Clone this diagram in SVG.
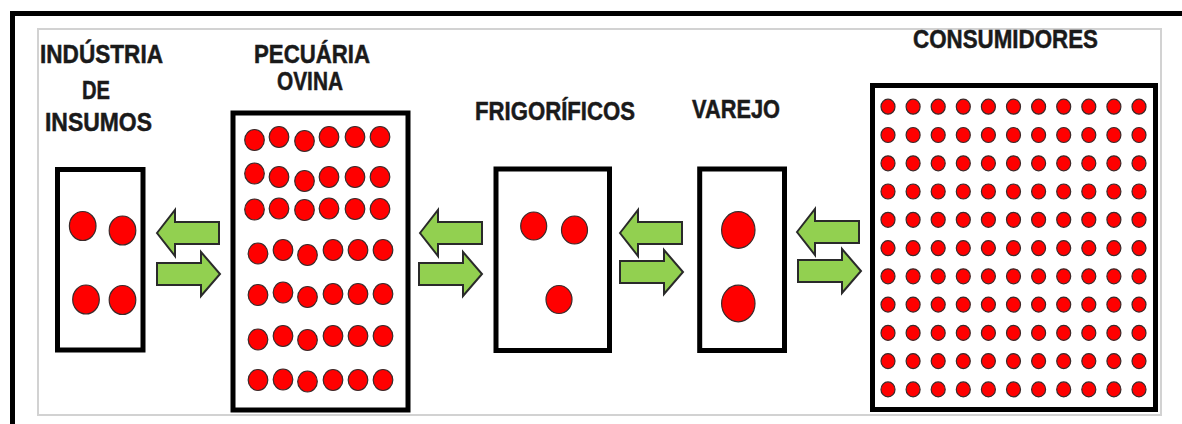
<svg xmlns="http://www.w3.org/2000/svg" xmlns:xlink="http://www.w3.org/1999/xlink" width="1182" height="424" viewBox="0 0 1182 424">
<style>
.lbl{font-family:"Liberation Sans",Arial,sans-serif;font-weight:bold;font-size:25.5px;fill:#1a1a1a;stroke:#1a1a1a;stroke-width:0.5;}
.box{fill:#fff;stroke:#000;stroke-width:5;}
.dot{fill:#ff0000;stroke:#3a2a2a;stroke-width:1.2;}
.arr{fill:#92d050;stroke:#2a2a2a;stroke-width:2;stroke-linejoin:miter;}
</style>
<defs>
<path id="arrL" d="M0,0 L18,-23 L18,-11 L62,-11 L62,11 L18,11 L18,23 Z"/>
<path id="arrR" d="M0,-11 L44,-11 L44,-22 L63,0 L44,22 L44,11 L0,11 Z"/>
<ellipse id="pd" rx="9.8" ry="10.5"/>
<ellipse id="cd" rx="7" ry="7.5"/>
<g id="crow">
<use href="#cd" x="888"/><use href="#cd" x="913.1"/><use href="#cd" x="938.2"/><use href="#cd" x="963.3"/><use href="#cd" x="988.4"/><use href="#cd" x="1013.5"/><use href="#cd" x="1038.6"/><use href="#cd" x="1063.7"/><use href="#cd" x="1088.8"/><use href="#cd" x="1113.9"/><use href="#cd" x="1139"/>
</g>
</defs>
<rect width="1182" height="424" fill="#fff"/>
<g id="frame">
<rect x="38" y="29" width="1123" height="386" fill="none" stroke="#d2d2d2" stroke-width="2"/>
<line x1="10" y1="13.5" x2="1182" y2="13.5" stroke="#000" stroke-width="5"/>
<line x1="12.5" y1="11" x2="12.5" y2="424" stroke="#000" stroke-width="5"/>
</g>
<g id="industria">
<text class="lbl" x="40" y="63" textLength="123" lengthAdjust="spacingAndGlyphs">INDÚSTRIA</text>
<text class="lbl" x="82" y="99" textLength="28" lengthAdjust="spacingAndGlyphs">DE</text>
<text class="lbl" x="45" y="131" textLength="107" lengthAdjust="spacingAndGlyphs">INSUMOS</text>
<rect class="box" x="57.5" y="169.5" width="85.5" height="180.5"/>
<g class="dot">
<ellipse cx="82.7" cy="226" rx="13.3" ry="14.5"/>
<ellipse cx="122.5" cy="230.5" rx="13.3" ry="14.5"/>
<ellipse cx="86" cy="299.5" rx="13.3" ry="14.5"/>
<ellipse cx="122.5" cy="300" rx="13.3" ry="14.5"/>
</g>
</g>
<g id="pecuaria">
<text class="lbl" x="254" y="63" textLength="116" lengthAdjust="spacingAndGlyphs">PECUÁRIA</text>
<text class="lbl" x="277" y="90" textLength="66" lengthAdjust="spacingAndGlyphs">OVINA</text>
<rect class="box" x="233" y="113" width="175" height="297"/>
<g class="dot">
<use href="#pd" x="254.5" y="140"/><use href="#pd" x="279" y="137"/><use href="#pd" x="304.5" y="141"/><use href="#pd" x="329" y="137"/><use href="#pd" x="355" y="137"/><use href="#pd" x="380" y="137"/>
<use href="#pd" x="254.5" y="173.5"/><use href="#pd" x="279" y="177"/><use href="#pd" x="304.5" y="181"/><use href="#pd" x="329" y="177"/><use href="#pd" x="355" y="177"/><use href="#pd" x="380" y="177"/>
<use href="#pd" x="254.5" y="209.5"/><use href="#pd" x="279" y="208.5"/><use href="#pd" x="304.5" y="210"/><use href="#pd" x="329" y="208.5"/><use href="#pd" x="355" y="209"/><use href="#pd" x="380" y="209"/>
<use href="#pd" x="258" y="253.5"/><use href="#pd" x="283" y="250"/><use href="#pd" x="307.5" y="255"/><use href="#pd" x="333" y="250"/><use href="#pd" x="358" y="250"/><use href="#pd" x="383" y="250"/>
<use href="#pd" x="258" y="295"/><use href="#pd" x="283" y="292.5"/><use href="#pd" x="307.5" y="297"/><use href="#pd" x="333" y="294"/><use href="#pd" x="358" y="294"/><use href="#pd" x="383" y="294"/>
<use href="#pd" x="258" y="339.5"/><use href="#pd" x="283" y="336"/><use href="#pd" x="307.5" y="340"/><use href="#pd" x="333" y="336"/><use href="#pd" x="358" y="336"/><use href="#pd" x="383" y="336"/>
<use href="#pd" x="258" y="380"/><use href="#pd" x="283" y="379.5"/><use href="#pd" x="307.5" y="381.5"/><use href="#pd" x="333" y="380"/><use href="#pd" x="358" y="380"/><use href="#pd" x="383" y="380"/>
</g>
</g>
<g id="frigorificos">
<text class="lbl" x="475" y="120" textLength="160" lengthAdjust="spacingAndGlyphs">FRIGORÍFICOS</text>
<rect class="box" x="496" y="169" width="113.5" height="181.5"/>
<g class="dot">
<ellipse cx="533.7" cy="226" rx="13" ry="14"/>
<ellipse cx="574.5" cy="230" rx="13" ry="14"/>
<ellipse cx="559" cy="299.5" rx="13" ry="14"/>
</g>
</g>
<g id="varejo">
<text class="lbl" x="692" y="118" textLength="88" lengthAdjust="spacingAndGlyphs">VAREJO</text>
<rect class="box" x="699.7" y="169" width="84.8" height="181.5"/>
<g class="dot">
<ellipse cx="738.3" cy="230" rx="16.7" ry="18.3"/>
<ellipse cx="738.3" cy="303.5" rx="16.7" ry="18.3"/>
</g>
</g>
<g id="consumidores">
<text class="lbl" x="913" y="48" textLength="185" lengthAdjust="spacingAndGlyphs">CONSUMIDORES</text>
<rect class="box" x="872.5" y="85.5" width="283" height="324"/>
<g class="dot">
<use href="#crow" y="106.7"/><use href="#crow" y="135"/><use href="#crow" y="163.3"/><use href="#crow" y="191.5"/><use href="#crow" y="219.8"/><use href="#crow" y="248.1"/><use href="#crow" y="276.3"/><use href="#crow" y="304.6"/><use href="#crow" y="332.9"/><use href="#crow" y="361.1"/><use href="#crow" y="389.4"/>
</g>
</g>
<g id="connectors" class="arr">
<use href="#arrL" transform="translate(157,233)"/>
<use href="#arrR" transform="translate(157,274)"/>
<use href="#arrL" transform="translate(420,233)"/>
<use href="#arrR" transform="translate(419,274)"/>
<use href="#arrL" transform="translate(620,233)"/>
<use href="#arrR" transform="translate(620,272)"/>
<use href="#arrL" transform="translate(797,232)"/>
<use href="#arrR" transform="translate(798,271)"/>
</g>
</svg>
